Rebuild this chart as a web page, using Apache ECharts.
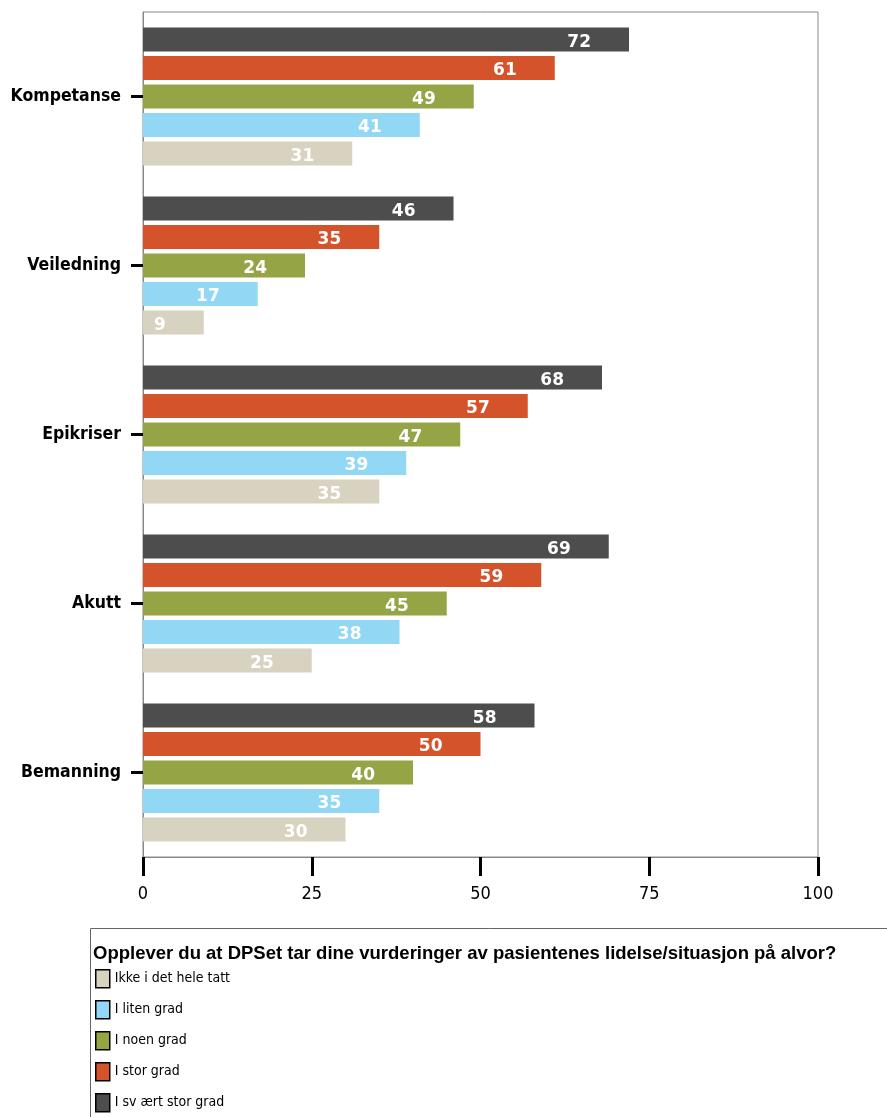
<!DOCTYPE html>
<html>
<head>
<meta charset="utf-8">
<script src="https://cdn.jsdelivr.net/npm/echarts@6/dist/echarts.min.js"></script>
<style>
  html, body { margin: 0; padding: 0; background: #fff; }
  #chart { width: 887px; height: 1117px; }
</style>
</head>
<body>
<div id="chart"></div>
<script>
// kategorier, ovenfra og ned
const categories = ['Kompetanse', 'Veiledning', 'Epikriser', 'Akutt', 'Bemanning']
const seriesNames = ['Ikke i det hele tatt', 'I liten grad', 'I noen grad', 'I stor grad', 'I sv ært stor grad']
const ikke = [31, 9, 35, 25, 30]
const liten = [41, 17, 39, 38, 35]
const noen = [49, 24, 47, 45, 40]
const stor = [61, 35, 57, 59, 50]
const svaert = [72, 46, 68, 69, 58]
const xTicks = [0, 25, 50, 75, 100]
const colors = ['#d8d2c0', '#92d8f5', '#95a546', '#d4532a', '#4d4d4d']
const question = 'Opplever du at DPSet tar dine vurderinger av pasientenes lidelse/situasjon på alvor?'

const narrow = '"DejaVu Sans Condensed", "Liberation Sans Narrow", "Liberation Sans", sans-serif'

const myChart = echarts.init(document.getElementById('chart'))

// echarts legger første kategori nederst, så vi snur
const cats = categories.slice().reverse()
const allValues = [ikke, liten, noen, stor, svaert]

// mørkeste serie øverst i hver gruppe -> legg den først
const series = allValues.map((vals, i) => ({
  name: seriesNames[i],
  type: 'bar',
  data: vals.slice().reverse(),
  barWidth: 24,
  barGap: '19%',
  itemStyle: { color: colors[i] },
  label: {
    show: true,
    position: 'insideRight',
    distance: 38,
    offset: [0, 3],
    color: '#fff',
    fontFamily: '"DejaVu Sans", Verdana, sans-serif',
    fontWeight: 'bold',
    fontSize: 17
  }
})).reverse()

const option = {
  animation: false,
  backgroundColor: '#fff',
  grid: {
    left: 143,
    top: 12,
    width: 675,
    height: 845,
    show: true,
    borderColor: '#888',
    borderWidth: 1
  },
  xAxis: {
    type: 'value',
    min: 0,
    max: 100,
    interval: 25,
    axisLine: { show: true, lineStyle: { color: '#888', width: 1 } },
    axisTick: { show: true, length: 19, lineStyle: { color: '#000', width: 3 } },
    splitLine: { show: false },
    axisLabel: {
      margin: 28,
      color: '#000',
      fontFamily: narrow,
      fontSize: 18,
      formatter: v => (xTicks.includes(v) ? String(v) : '')
    }
  },
  yAxis: {
    type: 'category',
    data: cats,
    axisLine: { show: true, lineStyle: { color: '#888', width: 1 } },
    axisTick: { show: true, alignWithLabel: true, length: 12, lineStyle: { color: '#000', width: 3 } },
    axisLabel: {
      margin: 22,
      color: '#000',
      fontFamily: narrow,
      fontWeight: 'bold',
      fontSize: 17.5
    }
  },
  legend: {
    orient: 'vertical',
    left: 95,
    top: 969,
    height: 150,
    padding: 0,
    itemWidth: 14,
    itemHeight: 18,
    itemGap: 11.5,
    icon: 'rect',
    selectedMode: false,
    data: seriesNames,
    itemStyle: { borderColor: '#000', borderWidth: 1.5 },
    textStyle: { color: '#000', fontFamily: narrow, fontSize: 14 }
  },
  graphic: [
    {
      type: 'rect',
      left: 88,
      top: 926,
      shape: { width: 830, height: 230 },
      style: { fill: 'none', stroke: '#666', lineWidth: 1 },
      z: 0
    },
    {
      type: 'text',
      left: 93,
      top: 944,
      style: {
        text: question,
        fill: '#000',
        font: 'bold 18.5px "Liberation Sans", Arial, sans-serif'
      }
    }
  ],
  series: series
}

myChart.setOption(option)
</script>
</body>
</html>
